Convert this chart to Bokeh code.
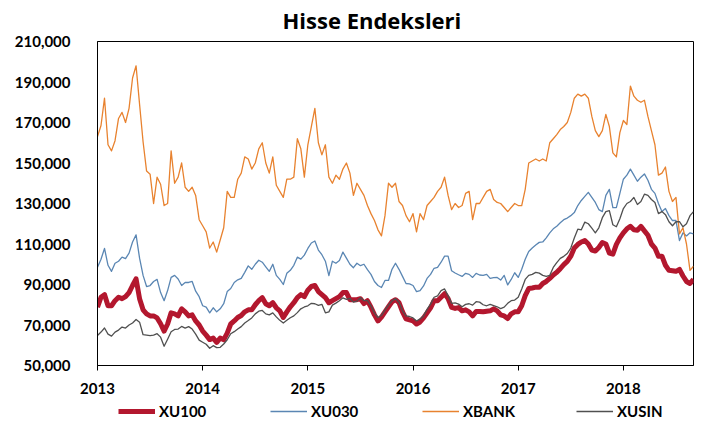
import numpy as np
from bokeh.plotting import figure
from bokeh.layouts import column
from bokeh.models import (Legend, LegendItem, FixedTicker, NumeralTickFormatter,
                          Title, Range1d)
from bokeh.embed import file_html
from bokeh.resources import INLINE

# time axis: decimal years, sampled every 1/30 year from Jan 2013
years = 2013 + np.arange(171) / 30.0

# values in thousands of index points
xu100_k = [78.8, 83.7, 85, 79.5, 79.5, 82, 83.7, 83, 84, 86,
           89.5, 92.8, 83, 77.5, 75.5, 74.5, 74.5, 73.5, 70.6, 67,
           70.5, 76, 75.5, 74.5, 78, 76.5, 74.5, 75, 72, 70,
           67, 65, 62.8, 63.5, 61.4, 63.5, 62.8, 66, 70.5, 72,
           73.7, 74.7, 76.5, 77.5, 77.5, 80, 82, 83.5, 80.5, 79.5,
           81, 78.5, 77, 73.7, 76.5, 79, 81, 83.5, 85, 84,
           87.2, 89, 89.5, 86.5, 85, 83.5, 81, 82, 83, 84,
           86, 86, 82.5, 82.5, 82.5, 83, 80.6, 82, 78.8, 75,
           72, 73.9, 76.5, 79, 81.5, 82.5, 81, 76.5, 73, 72.5,
           72, 70.5, 71.5, 73.5, 76, 78.5, 82, 82, 83.7, 85.5,
           83, 78.7, 78.2, 78.6, 77, 77.5, 76.5, 74.5, 76.7, 76.7,
           76.5, 76.8, 77, 78, 77, 75, 74.5, 73.2, 75.5, 76.5,
           76.5, 79.5, 84.5, 88, 88.3, 88.7, 88.6, 90.5, 91.5, 93,
           94.7, 96, 97.8, 99.8, 101.4, 104, 108, 109.8, 111, 111.7,
           110, 107, 106.5, 108.3, 110.7, 110, 105.5, 105, 109.8, 113,
           115.5, 117.5, 118.7, 117, 116.8, 118.7, 116.5, 114.3, 110, 108,
           104, 104, 99.5, 97, 96.8, 96.5, 97.5, 94.2, 91.5, 90.5,
           92.5]

xu030_k = [98.5, 102.5, 107.8, 99.5, 96.5, 100.5, 101.5, 103.5, 102.8, 105.5,
           111, 114.5, 103, 94.5, 89, 89.5, 91.5, 92.5, 86, 82,
           87, 93.5, 94.5, 92.7, 89.5, 91, 91, 91.5, 86.7, 84,
           79.5, 78.8, 76, 78.5, 76.5, 78, 80.5, 86.5, 88, 91,
           92.3, 93, 96, 99.2, 97.5, 100, 102, 101, 98.7, 96.5,
           100, 94.5, 92.5, 90, 95.5, 97, 99.5, 103.5, 102.5, 104.5,
           107.8, 110.5, 111.5, 107, 104.7, 101.5, 94.4, 101.5, 100.5, 101.8,
           106, 103, 100, 98.3, 100.5, 99.3, 100, 97.3, 95, 91.5,
           89.5, 88.5, 92, 92, 97.5, 100.5, 97.5, 94, 90.5, 90.3,
           89.5, 86.5, 87, 89.3, 93, 95, 98, 98.5, 101, 104,
           104, 96.8, 95.7, 94.8, 94, 95.5, 95, 93.5, 95.5, 94.7,
           94.5, 95, 93, 93.4, 93.5, 92.2, 94.5, 89.8, 92.5, 95.8,
           93.5, 97.5, 102.5, 106.3, 108, 109.5, 110.8, 111, 113, 115.5,
           117.5, 118.8, 120.5, 122, 122.8, 124, 125.5, 129, 131.5, 133.5,
           135.5, 133, 130.5, 127, 126, 134, 137, 128, 128, 135,
           142, 144, 147, 144, 141, 143, 144.6, 141.5, 137, 135,
           130, 126, 127.5, 124, 121.6, 121.6, 111.7, 115.5, 114, 115.5,
           115]

xbank_k = [163, 168.5, 182, 159, 156, 161, 172, 175, 170, 177,
           192, 198, 179, 160.5, 146, 144.5, 130, 143, 139.5, 129,
           130, 156, 140, 143, 150, 138, 136, 138, 134, 122,
           119, 116, 108, 111, 106, 112, 118, 136, 133, 133,
           142, 145, 153, 152, 147, 150, 157, 160, 150, 145,
           153, 139, 136, 133, 142, 142, 143, 162, 157, 143,
           159, 168, 177, 160, 154, 159, 143, 140, 144, 142,
           147, 150, 145, 134, 140, 137, 134, 129, 125, 121.6,
           117, 114, 124, 140, 138, 140, 131, 129, 124, 121,
           125, 116, 125, 122, 129, 131, 133, 136, 138, 143,
           134, 127, 130, 128, 129, 135, 136, 122, 130, 130,
           133, 136, 137, 132, 130.5, 130, 128, 126, 128, 130,
           129, 129, 137, 150, 151, 152, 151, 152, 151, 160,
           162, 164, 166.5, 168, 170, 175, 182, 184, 183, 184,
           182, 173, 166, 163, 166, 174, 168, 155, 153, 165,
           171, 169, 188, 183, 181, 180, 181, 173, 166, 159,
           144, 145, 148, 136, 131, 133, 115, 118, 110, 97,
           99]

xusin_k = [64.8, 66.5, 68.5, 65.5, 64.5, 66.5, 67.5, 69, 68.5, 70,
           71, 72.7, 71.4, 65.2, 65, 64.8, 65, 65.7, 64, 59.5,
           63, 66.7, 67.8, 68, 69.3, 68.5, 69.2, 68, 65.5, 62.5,
           61.5, 60.5, 58.5, 59.8, 58.8, 59, 60.6, 62.7, 65.7, 66.7,
           68, 69.2, 71, 72.2, 73.5, 75.5, 76.8, 77.2, 75.5, 75,
           76, 74, 72.3, 71, 72.3, 73.6, 74.5, 76.1, 78, 78.9,
           79.5, 80.7, 80.5, 79.7, 80.2, 76, 76.5, 79.8, 80.8, 82,
           83.4, 82.7, 83.1, 81.3, 81.8, 83.5, 82, 82, 79.5, 76,
           73.7, 74.8, 77.5, 79.8, 81.9, 83, 81.2, 77, 74.5, 74.2,
           73.5, 72, 73, 74.5, 77.7, 80.3, 83.7, 84.4, 87, 87.8,
           84.5, 80.7, 80.9, 80.3, 79, 80.2, 80.5, 79.8, 81.5, 81.3,
           80, 79.5, 80.2, 79.6, 79, 78.1, 78.8, 80.7, 82, 82.3,
           83.7, 87.8, 92.5, 94.5, 95, 96, 95.6, 94.5, 94, 94.5,
           98.4, 100.8, 102.9, 103.9, 105.3, 108, 113, 117.3, 117, 120.8,
           120, 117.8, 115.5, 118, 123, 126, 126.5, 119.5, 118.5, 122.5,
           127.5, 130, 131, 133, 129.5, 131, 134.6, 134, 132, 130.5,
           125, 126, 124.5, 121, 119, 121, 121, 118.5, 120, 124,
           126]

series_names = ["XU100", "XU030", "XBANK", "XUSIN"]
series_colors = ["#B3172E", "#5A86B3", "#E8822F", "#505050"]
series_widths = [5, 1.3, 1.3, 1.3]
series_values = [xu100_k, xu030_k, xbank_k, xusin_k]
x_ticks = [2013, 2014, 2015, 2016, 2017, 2018]
y_ticks = [50000, 70000, 90000, 110000, 130000, 150000, 170000, 190000, 210000]

FONT = "Lato"

p = figure(width=704, height=400, output_backend="svg", toolbar_location=None,
           x_range=Range1d(2013, 2018 + 2 / 3), y_range=Range1d(50000, 210000),
           min_border_left=97, min_border_right=11, min_border_top=41,
           min_border_bottom=35, title=None)
p.background_fill_color = "white"
p.border_fill_color = "white"
p.outline_line_color = "black"
p.outline_line_width = 1
p.xgrid.visible = False
p.ygrid.visible = False

for vals, col, lw in zip(series_values, series_colors, series_widths):
    p.line(years, np.array(vals) * 1000, line_color=col, line_width=lw,
           line_join="round")

p.xaxis.ticker = FixedTicker(ticks=x_ticks)
p.xaxis.formatter = NumeralTickFormatter(format="0")
p.xaxis.major_tick_out = 5
p.xaxis.major_tick_in = 0
p.xaxis.minor_tick_line_color = None
p.xaxis.major_label_standoff = 12

p.yaxis.ticker = FixedTicker(ticks=y_ticks)
p.yaxis.formatter = NumeralTickFormatter(format="0,0")
p.yaxis.major_tick_out = 0
p.yaxis.major_tick_in = 0
p.yaxis.minor_tick_line_color = None
p.yaxis.major_label_standoff = 27

for ax in (p.xaxis[0], p.yaxis[0]):
    ax.axis_line_color = "black"
    ax.major_tick_line_color = "black"
    ax.major_label_text_font = FONT
    ax.major_label_text_font_style = "bold"
    ax.major_label_text_font_size = "15px"
    ax.major_label_text_color = "black"

title = Title(text="Hisse Endeksleri", text_font="Open Sans", text_font_size="22px",
              text_font_style="bold", text_color="black", align="left",
              offset=185, standoff=9, vertical_align="top")
p.add_layout(title, "above")

# legend strip below the chart (its lines lie outside its view; only the key shows)
leg = figure(width=704, height=25, output_backend="svg", toolbar_location=None,
             x_range=Range1d(0, 1), y_range=Range1d(0, 1),
             x_axis_type=None, y_axis_type=None,
             min_border_left=97, min_border_right=11, min_border_top=0,
             min_border_bottom=0, title=None)
leg.outline_line_color = None
leg.background_fill_color = "white"
leg.border_fill_color = "white"
leg_renderers = [leg.line(years, np.array(vals) * 1000, line_color=c, line_width=w)
                 for vals, c, w in zip(series_values, series_colors, series_widths)]
legend = Legend(items=[LegendItem(label=n, renderers=[r]) for n, r in zip(series_names, leg_renderers)],
                orientation="horizontal", location=(21, 5),
                glyph_width=37, glyph_height=16, label_standoff=4, label_width=50,
                label_height=16, spacing=61, padding=0, margin=0,
                border_line_color=None, background_fill_alpha=0,
                label_text_font=FONT, label_text_font_style="bold",
                label_text_font_size="15px", label_text_color="black")
leg.add_layout(legend, "center")

layout = column(p, leg, spacing=0)
open("out.html", "w").write(file_html(layout, INLINE))
